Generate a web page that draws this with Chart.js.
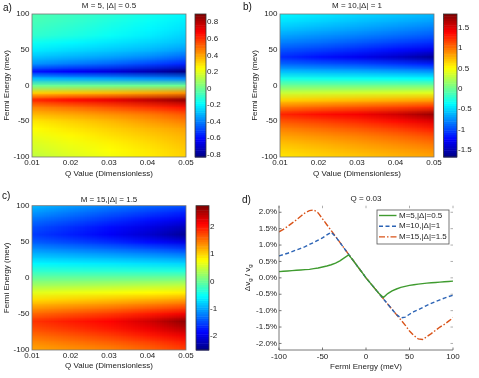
<!DOCTYPE html>
<html>
<head>
<meta charset="utf-8">
<script src="https://cdn.jsdelivr.net/npm/chart.js@4.4.1/dist/chart.umd.min.js"></script>
<style>
  html, body { margin: 0; padding: 0; background: #fff; }
  #fig { position: relative; width: 479px; height: 378px; overflow: hidden; font-family: 'Liberation Sans', Arial, sans-serif; }
  #fig canvas { position: absolute; left: 0; top: 0; }
  .tag { position: absolute; font-size: 10px; line-height: 10px; color: #111; }
</style>
</head>
<body>
<div id="fig">
  <canvas id="mapA" width="479" height="378"></canvas>
  <canvas id="barA" width="479" height="378"></canvas>
  <canvas id="mapB" width="479" height="378"></canvas>
  <canvas id="barB" width="479" height="378"></canvas>
  <canvas id="mapC" width="479" height="378"></canvas>
  <canvas id="barC" width="479" height="378"></canvas>
  <canvas id="lineD" width="479" height="378"></canvas>
  <div class="tag" style="left:3px;top:3px">a)</div>
  <div class="tag" style="left:243px;top:2px">b)</div>
  <div class="tag" style="left:2px;top:191px">c)</div>
  <div class="tag" style="left:242px;top:195px">d)</div>
</div>
<script>
// ---- data ----
const qValues = [0.01, 0.02, 0.03, 0.04, 0.05];
const qTicks = [0.01, 0.02, 0.03, 0.04, 0.05];
const energyTicks = [-100, -50, 0, 50, 100];
// rows of the maps, top (100 meV) to bottom (-100 meV)
const mapEnergies = [100, 90, 80, 70, 60, 50, 40, 30, 20, 10, 0, -10, -20, -30, -40, -50, -60, -70, -80, -90, -100];

const mapM5 = [
  [-0.05, -0.08, -0.11, -0.15, -0.19],
  [-0.06, -0.09, -0.13, -0.17, -0.21],
  [-0.08, -0.11, -0.15, -0.19, -0.23],
  [-0.10, -0.13, -0.17, -0.21, -0.26],
  [-0.16, -0.19, -0.22, -0.25, -0.29],
  [-0.21, -0.24, -0.27, -0.30, -0.35],
  [-0.28, -0.31, -0.34, -0.38, -0.44],
  [-0.37, -0.41, -0.45, -0.50, -0.56],
  [-0.58, -0.62, -0.67, -0.74, -0.82],
  [-0.30, -0.32, -0.34, -0.37, -0.40],
  [0.00, 0.00, 0.00, 0.00, 0.00],
  [0.33, 0.35, 0.37, 0.40, 0.44],
  [0.62, 0.67, 0.72, 0.79, 0.87],
  [0.46, 0.50, 0.55, 0.60, 0.66],
  [0.37, 0.40, 0.44, 0.48, 0.54],
  [0.29, 0.33, 0.37, 0.42, 0.47],
  [0.25, 0.29, 0.33, 0.37, 0.41],
  [0.22, 0.26, 0.30, 0.34, 0.38],
  [0.19, 0.23, 0.27, 0.31, 0.36],
  [0.17, 0.21, 0.25, 0.29, 0.34],
  [0.14, 0.19, 0.23, 0.28, 0.33]
];
const mapM10 = [
  [-0.38, -0.43, -0.49, -0.54, -0.60],
  [-0.45, -0.51, -0.57, -0.63, -0.69],
  [-0.55, -0.61, -0.67, -0.74, -0.81],
  [-0.67, -0.73, -0.79, -0.86, -0.93],
  [-0.80, -0.86, -0.93, -1.01, -1.09],
  [-0.95, -1.02, -1.10, -1.19, -1.30],
  [-1.08, -1.18, -1.28, -1.41, -1.60],
  [-0.88, -0.93, -0.98, -1.05, -1.14],
  [-0.58, -0.61, -0.64, -0.68, -0.73],
  [-0.28, -0.30, -0.32, -0.34, -0.37],
  [0.02, 0.02, 0.02, 0.03, 0.03],
  [0.33, 0.35, 0.37, 0.39, 0.42],
  [0.66, 0.70, 0.74, 0.78, 0.83],
  [0.98, 1.04, 1.10, 1.16, 1.24],
  [1.27, 1.35, 1.42, 1.55, 1.75],
  [1.10, 1.17, 1.25, 1.35, 1.50],
  [0.95, 1.02, 1.09, 1.18, 1.30],
  [0.84, 0.90, 0.96, 1.04, 1.14],
  [0.74, 0.80, 0.86, 0.93, 1.01],
  [0.66, 0.72, 0.78, 0.84, 0.91],
  [0.60, 0.66, 0.71, 0.77, 0.83]
];
const mapM15 = [
  [-0.90, -1.05, -1.20, -1.33, -1.45],
  [-1.08, -1.24, -1.40, -1.55, -1.70],
  [-1.28, -1.43, -1.60, -1.77, -1.95],
  [-1.45, -1.62, -1.80, -1.99, -2.22],
  [-1.55, -1.70, -1.88, -2.10, -2.40],
  [-1.38, -1.50, -1.63, -1.80, -2.00],
  [-1.10, -1.19, -1.28, -1.39, -1.52],
  [-0.84, -0.90, -0.96, -1.03, -1.12],
  [-0.56, -0.60, -0.64, -0.69, -0.74],
  [-0.29, -0.31, -0.32, -0.34, -0.36],
  [0.00, 0.01, 0.02, 0.03, 0.05],
  [0.31, 0.34, 0.38, 0.42, 0.46],
  [0.64, 0.69, 0.74, 0.80, 0.86],
  [0.96, 1.03, 1.10, 1.18, 1.27],
  [1.28, 1.37, 1.46, 1.58, 1.71],
  [1.58, 1.70, 1.82, 1.98, 2.18],
  [1.85, 1.98, 2.10, 2.35, 2.70],
  [1.72, 1.85, 1.99, 2.20, 2.48],
  [1.55, 1.67, 1.80, 1.98, 2.20],
  [1.38, 1.49, 1.60, 1.75, 1.95],
  [1.25, 1.34, 1.42, 1.58, 1.78]
];

// colour limits and colorbar ticks
const climM5 = [-0.83, 0.9];
const climM10 = [-1.67, 1.83];
const climM15 = [-2.51, 2.77];
const cbTicksM5 = [-0.8, -0.6, -0.4, -0.2, 0, 0.2, 0.4, 0.6, 0.8];
const cbTicksM10 = [-1.5, -1, -0.5, 0, 0.5, 1, 1.5];
const cbTicksM15 = [-2, -1, 0, 1, 2];

// panel d, Q = 0.03
const fermiEnergy = [-100, -95, -90, -85, -80, -75, -70, -65, -60, -55, -50, -45, -40, -35, -30, -25, -20, -15, -10, -5,
  0, 5, 10, 15, 20, 25, 30, 35, 40, 45, 50, 55, 60, 65, 70, 75, 80, 85, 90, 95, 100];
const dvM5 = [0.19, 0.20, 0.21, 0.22, 0.23, 0.24, 0.25, 0.26, 0.28, 0.30, 0.33, 0.36, 0.40, 0.45, 0.52, 0.61, 0.70, 0.54, 0.36, 0.18,
  0, -0.16, -0.32, -0.48, -0.60, -0.48, -0.40, -0.34, -0.29, -0.26, -0.23, -0.21, -0.19, -0.175, -0.16, -0.15, -0.14, -0.13, -0.12, -0.11, -0.10];
const dvM10 = [0.67, 0.71, 0.75, 0.80, 0.85, 0.90, 0.95, 1.02, 1.08, 1.15, 1.22, 1.31, 1.39, 1.26, 1.08, 0.90, 0.72, 0.54, 0.36, 0.18,
  0, -0.16, -0.32, -0.48, -0.64, -0.80, -0.96, -1.12, -1.22, -1.20, -1.11, -1.03, -0.97, -0.91, -0.84, -0.78, -0.72, -0.67, -0.62, -0.57, -0.53];
const dvM15 = [1.40, 1.48, 1.57, 1.67, 1.77, 1.88, 1.98, 2.05, 2.07, 1.98, 1.80, 1.62, 1.44, 1.26, 1.08, 0.90, 0.72, 0.54, 0.36, 0.18,
  0, -0.16, -0.32, -0.48, -0.64, -0.80, -0.96, -1.12, -1.28, -1.44, -1.62, -1.76, -1.86, -1.88, -1.79, -1.70, -1.60, -1.50, -1.42, -1.32, -1.22];
const pctTicks = [-2, -1.5, -1, -0.5, 0, 0.5, 1, 1.5, 2];
const seriesLabels = ['M=5,|\u0394|=0.5', 'M=10,|\u0394|=1', 'M=15,|\u0394|=1.5'];

// ---- shared setup ----
Chart.defaults.font.family = "'Liberation Sans', Arial, sans-serif";
Chart.defaults.font.size = 8;
Chart.defaults.color = '#222';
Chart.defaults.animation = false;

const W = 479, H = 378;

// MATLAB jet colormap
function jet(t) {
    t = Math.min(1, Math.max(0, t));
    const c = v => Math.round(255 * Math.min(1, Math.max(0, v)));
    return [c(1.5 - Math.abs(4 * t - 3)), c(1.5 - Math.abs(4 * t - 2)), c(1.5 - Math.abs(4 * t - 1))];
}

// heat map drawn from the grid through the chart's scales
function heatmapPlugin(grid, rows, cols, clim) {
    return {
        id: 'heatmap',
        beforeDatasetsDraw(chart) {
            const { ctx, chartArea: a, scales: { x, y } } = chart;
            const off = document.createElement('canvas');
            off.width = cols.length;
            off.height = rows.length;
            const octx = off.getContext('2d');
            const img = octx.createImageData(cols.length, rows.length);
            grid.forEach((row, r) => row.forEach((v, c) => {
                const rgb = jet((v - clim[0]) / (clim[1] - clim[0]));
                const k = (r * cols.length + c) * 4;
                img.data[k] = rgb[0];
                img.data[k + 1] = rgb[1];
                img.data[k + 2] = rgb[2];
                img.data[k + 3] = 255;
            }));
            octx.putImageData(img, 0, 0);
            const dq = cols[1] - cols[0];
            const de = rows[0] - rows[1];
            const x0 = x.getPixelForValue(cols[0] - dq / 2);
            const x1 = x.getPixelForValue(cols[cols.length - 1] + dq / 2);
            const y0 = y.getPixelForValue(rows[0] + de / 2);
            const y1 = y.getPixelForValue(rows[rows.length - 1] - de / 2);
            ctx.save();
            ctx.beginPath();
            ctx.rect(a.left, a.top, a.right - a.left, a.bottom - a.top);
            ctx.clip();
            ctx.imageSmoothingEnabled = true;
            ctx.imageSmoothingQuality = 'low';
            ctx.drawImage(off, x0, y0, x1 - x0, y1 - y0);
            ctx.restore();
        }
    };
}

// 64 step colour bar
function colorbarPlugin(clim) {
    return {
        id: 'colorbar',
        beforeDatasetsDraw(chart) {
            const { ctx, chartArea: a, scales: { y } } = chart;
            const n = 64;
            ctx.save();
            for (let k = 0; k < n; k++) {
                const v0 = clim[0] + k * (clim[1] - clim[0]) / n;
                const v1 = clim[0] + (k + 1) * (clim[1] - clim[0]) / n;
                const rgb = jet((k + 0.5) / n);
                const top = y.getPixelForValue(v1);
                const bot = y.getPixelForValue(v0);
                ctx.fillStyle = `rgb(${rgb[0]},${rgb[1]},${rgb[2]})`;
                ctx.fillRect(a.left, top, a.right - a.left, bot - top + 0.5);
            }
            ctx.restore();
        }
    };
}

function framePlugin(color) {
    return {
        id: 'frame',
        afterDraw(chart) {
            const { ctx, chartArea: a } = chart;
            ctx.save();
            ctx.strokeStyle = color;
            ctx.lineWidth = 0.8;
            ctx.strokeRect(a.left, a.top, a.right - a.left, a.bottom - a.top);
            ctx.restore();
        }
    };
}

function fixedTicks(values) {
    return scale => { scale.ticks = values.map(v => ({ value: v })); };
}

// ---- heat map panels ----
function makeMap(id, grid, clim, title, area, titlePadTop, xTitlePad) {
    return new Chart(document.getElementById(id), {
        type: 'scatter',
        data: { datasets: [] },
        options: {
            responsive: false,
            devicePixelRatio: 1,
            layout: {
                padding: { left: area.left - 32, right: W - area.right, top: area.top - 14, bottom: H - area.bottom - 28 }
            },
            plugins: {
                legend: { display: false },
                tooltip: { enabled: false },
                title: {
                    display: true,
                    text: title,
                    fullSize: false,
                    color: '#222',
                    font: { size: 8, weight: 'normal' },
                    padding: { top: titlePadTop, bottom: 14 - 9.6 - titlePadTop }
                }
            },
            scales: {
                x: {
                    type: 'linear',
                    min: qTicks[0],
                    max: qTicks[qTicks.length - 1],
                    grid: { display: false, drawTicks: false },
                    border: { display: false },
                    ticks: { padding: 1, autoSkip: false, maxRotation: 0, callback: v => v.toFixed(2) },
                    afterBuildTicks: fixedTicks(qTicks),
                    afterFit: s => { s.height = 28; s.paddingLeft = 0; s.paddingRight = 0; },
                    title: { display: true, text: 'Q Value (Dimensionless)', font: { size: 8 }, padding: { top: 0, bottom: xTitlePad } }
                },
                y: {
                    type: 'linear',
                    min: -100,
                    max: 100,
                    grid: { display: false, drawTicks: false },
                    border: { display: false },
                    ticks: { padding: 2.5, autoSkip: false, callback: v => String(v) },
                    afterBuildTicks: fixedTicks(energyTicks),
                    afterFit: s => { s.width = 32; s.paddingTop = 0; s.paddingBottom = 0; },
                    title: { display: true, text: 'Fermi Energy (mev)', font: { size: 8 }, padding: { top: 2.2, bottom: 0 } }
                }
            }
        },
        plugins: [heatmapPlugin(grid, mapEnergies, qValues, clim), framePlugin('#777')]
    });
}

function makeBar(id, clim, ticks, area) {
    return new Chart(document.getElementById(id), {
        type: 'scatter',
        data: { datasets: [] },
        options: {
            responsive: false,
            devicePixelRatio: 1,
            layout: {
                padding: { left: area.left, right: W - area.right - 22, top: area.top, bottom: H - area.bottom }
            },
            plugins: { legend: { display: false }, tooltip: { enabled: false } },
            scales: {
                x: { display: false, min: 0, max: 1 },
                y: {
                    position: 'right',
                    min: clim[0],
                    max: clim[1],
                    grid: { display: false, drawTicks: false },
                    border: { display: false },
                    ticks: { padding: 1, autoSkip: false, callback: v => String(v) },
                    afterBuildTicks: fixedTicks(ticks),
                    afterFit: s => { s.width = 22; s.paddingTop = 0; s.paddingBottom = 0; }
                }
            }
        },
        plugins: [colorbarPlugin(clim), framePlugin('#333')]
    });
}

makeMap('mapA', mapM5, climM5, 'M = 5, |\u0394| = 0.5', { left: 32, right: 186, top: 14, bottom: 157 }, 0.7, 6.7);
makeBar('barA', climM5, cbTicksM5, { left: 195, right: 206, top: 14, bottom: 157 });
makeMap('mapB', mapM10, climM10, 'M = 10,|\u0394| = 1', { left: 280, right: 434, top: 14, bottom: 157 }, 0.9, 6.7);
makeBar('barB', climM10, cbTicksM10, { left: 443.5, right: 457, top: 14, bottom: 157 });
makeMap('mapC', mapM15, climM15, 'M = 15,|\u0394| = 1.5', { left: 32, right: 186, top: 205.7, bottom: 350 }, 3, 7.7);
makeBar('barC', climM15, cbTicksM15, { left: 196, right: 209, top: 205.7, bottom: 350 });

// ---- panel d ----
const lineColors = ['#3f9b2f', '#2b63b5', '#d95319'];
const lineDashes = [[], [4, 2.5], [6, 2, 1.5, 2]];

const yTitlePlugin = {
    id: 'yTitle',
    afterDraw(chart) {
        const { ctx, chartArea: a } = chart;
        const parts = [['\u0394v', 0, 8], ['g', 2.5, 6], [' / v', 0, 8], ['g', 2.5, 6]];
        ctx.save();
        ctx.translate(247.5, (a.top + a.bottom) / 2);
        ctx.rotate(-Math.PI / 2);
        ctx.fillStyle = '#222';
        ctx.textBaseline = 'middle';
        let total = 0;
        parts.forEach(p => {
            ctx.font = `${p[2]}px 'Liberation Sans', Arial, sans-serif`;
            total += ctx.measureText(p[0]).width;
        });
        let x = -total / 2;
        parts.forEach(p => {
            ctx.font = `${p[2]}px 'Liberation Sans', Arial, sans-serif`;
            ctx.fillText(p[0], x, p[1]);
            x += ctx.measureText(p[0]).width;
        });
        ctx.restore();
    }
};

const axesPlugin = {
    id: 'axesBox',
    afterDatasetsDraw(chart) {
        const { ctx, chartArea: a, scales: { x, y } } = chart;
        ctx.save();
        ctx.lineWidth = 0.8;
        ctx.strokeStyle = '#999';
        ctx.beginPath();
        energyTicks.forEach(v => {
            const px = x.getPixelForValue(v);
            ctx.moveTo(px, a.top); ctx.lineTo(px, a.top + 2.5);
        });
        pctTicks.forEach(v => {
            const py = y.getPixelForValue(v);
            ctx.moveTo(a.right, py); ctx.lineTo(a.right - 2.5, py);
        });
        ctx.stroke();
        ctx.strokeStyle = '#555';
        ctx.beginPath();
        energyTicks.forEach(v => {
            const px = x.getPixelForValue(v);
            ctx.moveTo(px, a.bottom); ctx.lineTo(px, a.bottom - 2.5);
        });
        pctTicks.forEach(v => {
            const py = y.getPixelForValue(v);
            ctx.moveTo(a.left, py); ctx.lineTo(a.left + 2.5, py);
        });
        ctx.moveTo(a.left, a.top);
        ctx.lineTo(a.left, a.bottom);
        ctx.lineTo(a.right, a.bottom);
        ctx.stroke();
        ctx.restore();
    }
};

const boxLegendPlugin = {
    id: 'boxLegend',
    afterDraw(chart) {
        const { ctx, chartArea: a } = chart;
        const left = a.right - 76, top = a.top + 4.3, right = a.right - 4, bottom = a.top + 38.3;
        ctx.save();
        ctx.fillStyle = '#fff';
        ctx.fillRect(left, top, right - left, bottom - top);
        ctx.strokeStyle = '#555';
        ctx.lineWidth = 0.8;
        ctx.strokeRect(left, top, right - left, bottom - top);
        ctx.font = "8px 'Liberation Sans', Arial, sans-serif";
        ctx.textBaseline = 'middle';
        chart.data.datasets.forEach((ds, i) => {
            const cy = top + 5.5 + i * 10.7;
            ctx.strokeStyle = ds.borderColor;
            ctx.lineWidth = ds.borderWidth;
            ctx.setLineDash(ds.borderDash);
            ctx.beginPath();
            ctx.moveTo(left + 2, cy);
            ctx.lineTo(left + 19.5, cy);
            ctx.stroke();
            ctx.setLineDash([]);
            ctx.fillStyle = '#222';
            ctx.fillText(ds.label, left + 22, cy);
        });
        ctx.restore();
    }
};

const series = [dvM5, dvM10, dvM15];
new Chart(document.getElementById('lineD'), {
    type: 'line',
    data: {
        datasets: series.map((vals, i) => ({
            label: seriesLabels[i],
            data: fermiEnergy.map((e, k) => ({ x: e, y: vals[k] })),
            borderColor: lineColors[i],
            borderWidth: 1.4,
            borderDash: lineDashes[i],
            pointRadius: 0,
            fill: false,
            tension: 0
        }))
    },
    options: {
        responsive: false,
        devicePixelRatio: 1,
        layout: {
            padding: { left: 279 - 36, right: W - 453, top: 205.7 - 14, bottom: H - 350 - 28 }
        },
        plugins: {
            legend: { display: false },
            tooltip: { enabled: false },
            title: {
                display: true,
                text: 'Q = 0.03',
                fullSize: false,
                color: '#222',
                font: { size: 8, weight: 'normal' },
                padding: { top: 2, bottom: 2.4 }
            }
        },
        scales: {
            x: {
                type: 'linear',
                min: -100,
                max: 100,
                grid: { display: false, drawTicks: false },
                border: { display: false },
                ticks: { padding: 2, autoSkip: false, maxRotation: 0, callback: v => String(v) },
                afterBuildTicks: fixedTicks(energyTicks),
                afterFit: s => { s.height = 28; s.paddingLeft = 0; s.paddingRight = 0; },
                title: { display: true, text: 'Fermi Energy (meV)', font: { size: 8 }, padding: { top: 0, bottom: 6.5 } }
            },
            y: {
                type: 'linear',
                min: -2.2,
                max: 2.2,
                grid: { display: false, drawTicks: false },
                border: { display: false },
                ticks: { padding: 2, autoSkip: false, callback: v => v.toFixed(1) + '%' },
                afterBuildTicks: fixedTicks(pctTicks),
                afterFit: s => { s.width = 36; s.paddingTop = 0; s.paddingBottom = 0; }
            }
        }
    },
    plugins: [axesPlugin, yTitlePlugin, boxLegendPlugin]
});
</script>
</body>
</html>
